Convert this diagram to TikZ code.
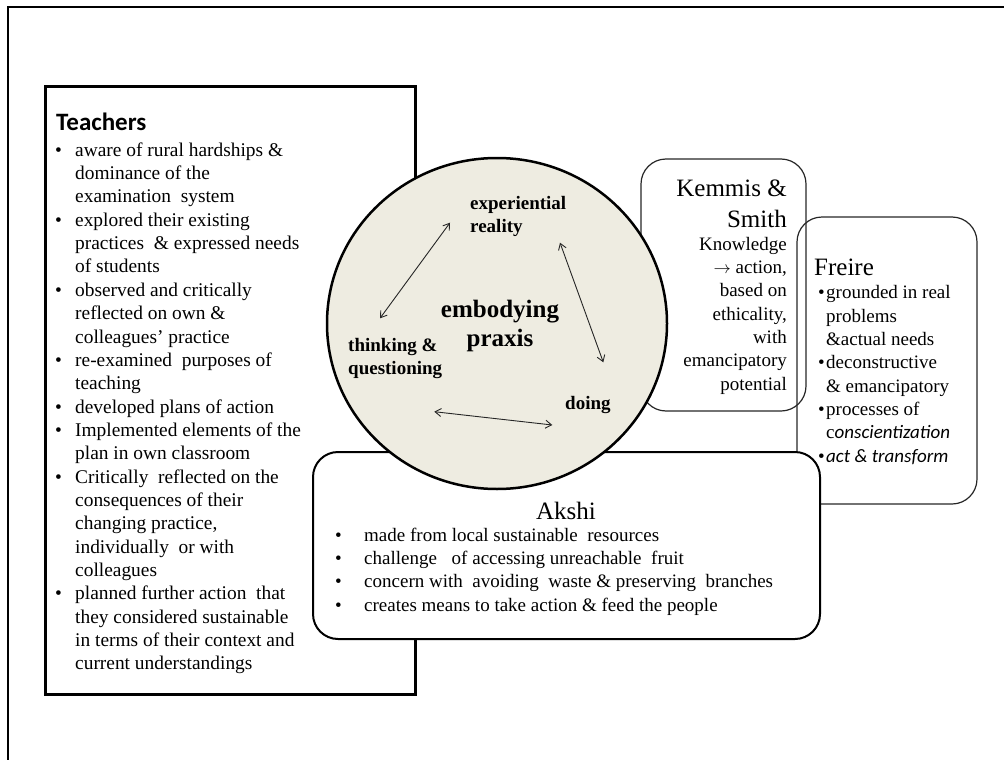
\documentclass[tikz,border=0pt]{standalone}
\usepackage{fontspec}
\setmainfont{Liberation Serif}
\newfontfamily\calibri{Carlito}
\usetikzlibrary{arrows.meta,shapes.geometric}
\definecolor{praxisfill}{HTML}{EEECE1}
% bullet of a given width, and the matching hanging indent
\newcommand\blt[1]{\makebox[#1][l]{\textbullet}}
\newcommand\hng[1]{\hspace*{#1}}
\begin{document}
\begin{tikzpicture}[x=1pt,y=-1pt,
  body/.style={inner sep=0pt, align=left, font=\fontsize{19}{23.35}\selectfont},
  title/.style={inner sep=0pt, font=\fontsize{25}{31}\selectfont},
  cyclelabel/.style={inner sep=0pt, align=left, font=\fontsize{19}{23}\selectfont\bfseries},
  plainbox/.style={draw=black!85, line width=1.2pt, rounded corners=25pt},
  twoway/.style={black!85, line width=0.9pt,
    {Straight Barb[length=6pt,width=8pt]}-{Straight Barb[length=6pt,width=8pt]}}
]
\useasboundingbox (0,0) rectangle (1004,760);

% page frame (top and left edges only)
\draw[line width=2pt] (8,760) -- (8,7.5) -- (1004,7.5);

% ---------------- Teachers ----------------
\draw[line width=3pt] (45,86) rectangle (415,694);
\node[inner sep=0pt, anchor=base west, font=\calibri\bfseries\fontsize{25}{30}\selectfont]
  (teachers) at (56,130) {Teachers};
\node[body, anchor=north west, font=\fontsize{19.4}{23.35}\selectfont] (teacherlist) at (55,139.65) {%
\strut\blt{20pt}aware of rural hardships \&\\%
\hng{20pt}dominance of the\\%
\hng{20pt}examination\ \ system\\%
\blt{20pt}explored their existing\\%
\hng{20pt}practices\ \ \& expressed needs\\%
\hng{20pt}of students\\%
\blt{20pt}observed and critically\\%
\hng{20pt}reflected on own \&\\%
\hng{20pt}colleagues' practice\\%
\blt{20pt}re-examined\ \ purposes of\\%
\hng{20pt}teaching\\%
\blt{20pt}developed plans of action\\%
\blt{20pt}Implemented elements of the\\%
\hng{20pt}plan in own classroom\\%
\blt{20pt}Critically\ \ reflected on the\\%
\hng{20pt}consequences of their\\%
\hng{20pt}changing practice,\\%
\hng{20pt}individually\ \ or with\\%
\hng{20pt}colleagues\\%
\blt{20pt}planned further action\ \ that\\%
\hng{20pt}they considered sustainable\\%
\hng{20pt}in terms of their context and\\%
\hng{20pt}current understandings};

% ---------------- Freire ----------------
\draw[plainbox] (797,217) rectangle (977,504);
\node[title, anchor=base west] (freire) at (814,275) {Freire};
\node[body, anchor=north west] (freirelist) at (818,282.15) {%
\strut\blt{8pt}grounded in real\\%
\hng{8pt}problems\\%
\hng{8pt}\&actual needs\\%
\blt{8pt}deconstructive\\%
\hng{8pt}\& emancipatory\\%
\blt{8pt}processes of\\%
\hng{8pt}c{\calibri\itshape onscientization}\\%
\blt{8pt}{\calibri\itshape act \& transform}};

% ---------------- Kemmis & Smith ----------------
\draw[plainbox] (641,159) rectangle (806,411);
\node[title, align=right, anchor=north east] (kemmis) at (787,174.3)
  {\strut Kemmis \&\\Smith};
\node[body, align=right, anchor=north east] (kemmistext) at (787,233.6) {%
\strut Knowledge\\%
$\rightarrow$ action,\\%
based on\\%
ethicality,\\%
with\\%
emancipatory\\%
potential};

% ---------------- Akshi ----------------
\draw[line width=2pt, fill=white, rounded corners=25pt] (313,452) rectangle (820,639);
\node[title, anchor=base] (akshi) at (566,519) {Akshi};
\node[body, anchor=north west] (akshilist) at (335,524.65) {%
\strut\blt{29pt}made from local sustainable\ \ resources\\%
\blt{29pt}challenge\hspace{10pt} of accessing unreachable\ \ fruit\\%
\blt{29pt}concern with\ \ avoiding\ \ waste \& preserving\ \ branches\\%
\blt{29pt}creates means to take action \& feed the people};

% ---------------- praxis cycle ----------------
\node[ellipse, draw, line width=2.5pt, fill=praxisfill, inner sep=0pt,
  minimum width=340pt, minimum height=331pt] (cycle) at (497,323.5) {};
\node[inner sep=0pt, align=center, anchor=north,
  font=\fontsize{25}{29.7}\selectfont\bfseries] (core) at (500,296.2)
  {\strut embodying\\praxis};
\node[cyclelabel, anchor=north west] (experience) at (470,193.4)
  {\strut experiential\\reality};
\node[cyclelabel, anchor=north west] (thinking) at (348,334.9)
  {\strut thinking \&\\questioning};
\node[cyclelabel, anchor=base west] (doing) at (565,409.5) {doing};

% arrow ends between the three moments
\coordinate (think-up) at (380,318.3);
\coordinate (exp-left) at (450,222.7);
\coordinate (exp-right) at (560,242.7);
\coordinate (do-up) at (603.3,362.3);
\coordinate (think-down) at (434.3,411.7);
\coordinate (do-left) at (552.3,425);

\draw[twoway] (think-up) -- (exp-left);
\draw[twoway] (exp-right) -- (do-up);
\draw[twoway] (think-down) -- (do-left);
\end{tikzpicture}
\end{document}
